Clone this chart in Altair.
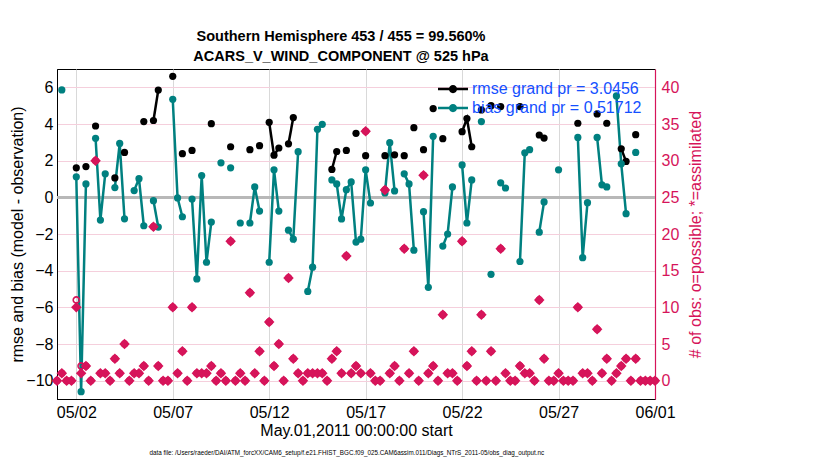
import altair as alt
import pandas as pd

title_lines = ["Southern Hemisphere 453 / 455 = 99.560%", "ACARS_V_WIND_COMPONENT @ 525 hPa"]
footer = ("data file: /Users/raeder/DAI/ATM_forcXX/CAM6_setup/f.e21.FHIST_BGC.f09_025."
          "CAM6assim.011/Diags_NTrS_2011-05/obs_diag_output.nc")
x_title = "May.01,2011 00:00:00 start"
y_left_title = "rmse and bias (model - observation)"
y_right_title = "# of obs: o=possible; *=assimilated"
series_labels = ["rmse grand pr = 3.0456", "bias grand pr = 0.51712"]

# 6-hourly bins, expressed as day of May (1.0 = May 1 00:00 ... 32.0 = Jun 1 00:00)
bin_day = [1 + 0.25 * i for i in range(125)]

N = None
bias = [
    N, 5.86, N, N,
    1.12, -10.6, 0.73, N,
    3.22, -1.24, 1.28, N,
    0.53, 2.94, -1.17, N,
    0.37, 1.02, -1.55, N,
    -0.18, -1.62, N, N,
    5.35, -0.03, -1.06, N,
    -0.09, -4.45, 1.19, -3.54,
    -1.35, N, 1.88, N,
    1.61, N, -1.40, N,
    -1.40, 0.57, -0.75, N,
    -3.54, 1.50, -0.75, N,
    -1.79, -2.28, 2.49, N,
    -5.13, -3.81, 3.71, 3.98,
    N, 0.95, 0.73, -1.18,
    0.42, 0.84, -2.44, -2.28,
    1.50, -0.31, N, N,
    0.24, 2.98, 0.35, N,
    1.28, 0.73, -2.88, N,
    -0.78, -4.91, 3.33, N,
    -2.66, -2.00, 0.57, N,
    1.77, -1.40, 0.95, N,
    4.13, N, -4.20, N,
    0.79, 0.51, N, N,
    -3.50, 2.43, 2.60, N,
    -1.90, -0.25, N, N,
    1.50, N, N, N,
    3.27, -3.29, -0.29, N,
    3.27, 0.68, 0.57, N,
    5.53, 1.83, -0.89, N,
    2.45, N, N, N,
    N,
]

rmse = [
    N, N, N, N,
    1.61, N, 1.68, N,
    3.89, N, N, N,
    1.06, N, 2.45, N,
    N, N, 4.13, N,
    4.19, 5.85, N, N,
    6.60, N, 2.38, N,
    2.56, N, N, N,
    4.02, N, N, N,
    2.76, N, N, N,
    2.60, N, 2.82, N,
    4.09, 2.30, 2.69, N,
    2.92, 4.35, N, N,
    N, N, N, N,
    N, 1.52, 2.50, N,
    2.56, N, 3.49, N,
    2.27, N, N, N,
    2.27, N, 2.32, N,
    2.27, N, 3.80, N,
    2.60, N, 4.84, N,
    3.20, N, N, N,
    3.58, 4.30, 2.76, N,
    4.77, N, 5.00, N,
    4.95, N, N, N,
    4.95, N, N, N,
    3.40, 3.23, N, N,
    N, N, N, N,
    4.04, N, N, N,
    4.55, N, 4.04, N,
    N, 2.65, 1.96, N,
    3.42, N, N, N,
    N,
]

n_used = [
    0, 1, 0, 0,
    10, 1, 2, 0,
    30, 1, 1, 0,
    3, 1, 5, 0,
    1, 1, 2, 0,
    21, 2, 0, 0,
    10, 1, 4, 0,
    10, 1, 1, 1,
    2, 0, 1, 0,
    19, 0, 1, 0,
    12, 1, 4, 0,
    8, 2, 5, 0,
    14, 3, 1, 0,
    1, 1, 1, 1,
    0, 3, 4, 1,
    17, 1, 2, 1,
    34, 1, 0, 0,
    26, 1, 2, 0,
    18, 1, 4, 0,
    28, 1, 2, 0,
    9, 1, 1, 0,
    19, 2, 4, 0,
    9, 0, 4, 0,
    18, 1, 0, 0,
    2, 1, 1, 0,
    11, 3, 0, 0,
    1, 0, 0, 0,
    10, 1, 1, 0,
    7, 1, 3, 0,
    1, 2, 3, 0,
    3, 0, 0, 0,
    0,
]

n_poss = [
    0, 1, 0, 0,
    11, 2, 2, 0,
    30, 1, 1, 0,
    3, 1, 5, 0,
    1, 1, 2, 0,
    21, 2, 0, 0,
    10, 1, 4, 0,
    10, 1, 1, 1,
    2, 0, 1, 0,
    19, 0, 1, 0,
    12, 1, 4, 0,
    8, 2, 5, 0,
    14, 3, 1, 0,
    1, 1, 1, 1,
    0, 3, 4, 1,
    17, 1, 2, 1,
    34, 1, 0, 0,
    26, 1, 2, 0,
    18, 1, 4, 0,
    28, 1, 2, 0,
    9, 1, 1, 0,
    19, 2, 4, 0,
    9, 0, 4, 0,
    18, 1, 0, 0,
    2, 1, 1, 0,
    11, 3, 0, 0,
    1, 0, 0, 0,
    10, 1, 1, 0,
    7, 1, 3, 0,
    1, 2, 3, 0,
    3, 0, 0, 0,
    0,
]

x_ticks = [2, 7, 12, 17, 22, 27, 32]
x_tick_labels = ["05/02", "05/07", "05/12", "05/17", "05/22", "05/27", "06/01"]
y_left_ticks = [-10, -8, -6, -4, -2, 0, 2, 4, 6]
y_right_ticks = [0, 5, 10, 15, 20, 25, 30, 35, 40]

TEAL = "#008080"
PINK = "#d6145a"
BLUE = "#1450ff"
FONT = "Liberation Sans"


def runs(values, name):
    rows, seg, prev = [], 0, None
    for d, v in zip(bin_day, values):
        if v is None:
            prev = None
            continue
        if prev is None:
            seg += 1
        rows.append({"day": d, "value": v, "series": name, "seg": f"{name}-{seg}"})
        prev = v
    return rows


stats = pd.DataFrame(runs(rmse, series_labels[0]) + runs(bias, series_labels[1]))
counts = pd.DataFrame({"day": bin_day, "n_used": n_used, "n_poss": n_poss})

label_expr = " : ".join(
    f"datum.value == {v} ? '{t}'" for v, t in zip(x_ticks, x_tick_labels)
) + " : ''"

x_scale = alt.Scale(domain=[1, 32], nice=False, zero=False)
x_axis = alt.Axis(values=x_ticks, labelExpr=label_expr, title=x_title, grid=True,
                  gridColor="#d9d9d9", ticks=False, labelFlush=False, labelFontSize=16,
                  titleFontSize=16, titleFontWeight="normal", labelColor="black",
                  titleColor="black", domainColor="black", labelPadding=5, titlePadding=2)

yl_scale = alt.Scale(domain=[-11, 7], nice=False, zero=False)
yl_axis = alt.Axis(values=y_left_ticks, title=y_left_title, grid=False, ticks=False,
                   labelFontSize=16, titleFontSize=16, titleFontWeight="normal",
                   labelColor="black", titleColor="black", domainColor="black",
                   labelPadding=4, titlePadding=0)

yr_scale = alt.Scale(domain=[-2.5, 42.5], nice=False, zero=False)
yr_axis = alt.Axis(orient="right", values=y_right_ticks, title=y_right_title, grid=True,
                   gridColor="#f5cfdc", ticks=False, labelFontSize=16, titleFontSize=16,
                   titleFontWeight="normal", labelColor=PINK, titleColor=PINK,
                   domainColor=PINK, domainWidth=1.2, labelPadding=6, titlePadding=9,
                   titleAngle=270, titleBaseline="top")

color_scale = alt.Scale(domain=series_labels, range=["black", TEAL])

legend_symbol = ("M-2,-0.17L2,-0.17L2,0.17L-2,0.17Z "
                 "M0.55,0A0.55,0.55 0 1,1 -0.55,0A0.55,0.55 0 1,1 0.55,0Z")


def make_legend():
    return alt.Legend(title=None, orient="none", legendX=388, legendY=12,
                      symbolType=legend_symbol, symbolSize=225, symbolStrokeWidth=0,
                      symbolOpacity=1, labelFontSize=16, labelColor=BLUE, labelFont=FONT,
                      labelOffset=11, rowPadding=3, padding=0, labelLimit=400)


base = alt.Chart(stats)

zero_line = alt.Chart(counts).mark_rule(color="#b8b8b8", strokeWidth=2).encode(
    y=alt.datum(0, scale=yl_scale, axis=yl_axis)
)

lines = base.mark_line(strokeWidth=2.5).encode(
    x=alt.X("day:Q", scale=x_scale, axis=x_axis),
    y=alt.Y("value:Q", scale=yl_scale, axis=yl_axis),
    color=alt.Color("series:N", scale=color_scale, legend=make_legend()),
    detail="seg:N",
)

dots = base.mark_circle(size=52, opacity=1).encode(
    x=alt.X("day:Q", scale=x_scale, axis=x_axis),
    y=alt.Y("value:Q", scale=yl_scale, axis=yl_axis),
    color=alt.Color("series:N", scale=color_scale, legend=make_legend()),
)

left = alt.layer(zero_line, lines, dots)

possible = alt.Chart(counts).mark_point(shape="circle", filled=False, size=38,
                                        strokeWidth=1.6, color=PINK, opacity=1).encode(
    x=alt.X("day:Q", scale=x_scale, axis=x_axis),
    y=alt.Y("n_poss:Q", scale=yr_scale, axis=yr_axis),
)

used = alt.Chart(counts).mark_point(shape="diamond", filled=True, size=110,
                                    color=PINK, opacity=1).encode(
    x=alt.X("day:Q", scale=x_scale, axis=x_axis),
    y=alt.Y("n_used:Q", scale=yr_scale, axis=yr_axis),
)

right = alt.layer(possible, used)

main = alt.layer(left, right).resolve_scale(y="independent").properties(
    width=598, height=330,
    title=alt.Title(title_lines, fontSize=14.5, fontWeight="bold", font=FONT,
                    anchor="middle", offset=5, lineHeight=20, color="black", dx=-15),
)

chart = alt.vconcat(main).properties(
    title=alt.Title(footer, orient="bottom", fontSize=6.3, fontWeight="normal",
                    font=FONT, anchor="middle", offset=11, color="black", dx=-10),
    padding={"left": 1, "top": 20, "right": 5, "bottom": 5},
).configure(font=FONT).configure_view(stroke="black", strokeWidth=1).configure_axis(
    labelFont=FONT, titleFont=FONT
)

chart.save("out.html", embed_options={"renderer": "svg", "actions": False})
